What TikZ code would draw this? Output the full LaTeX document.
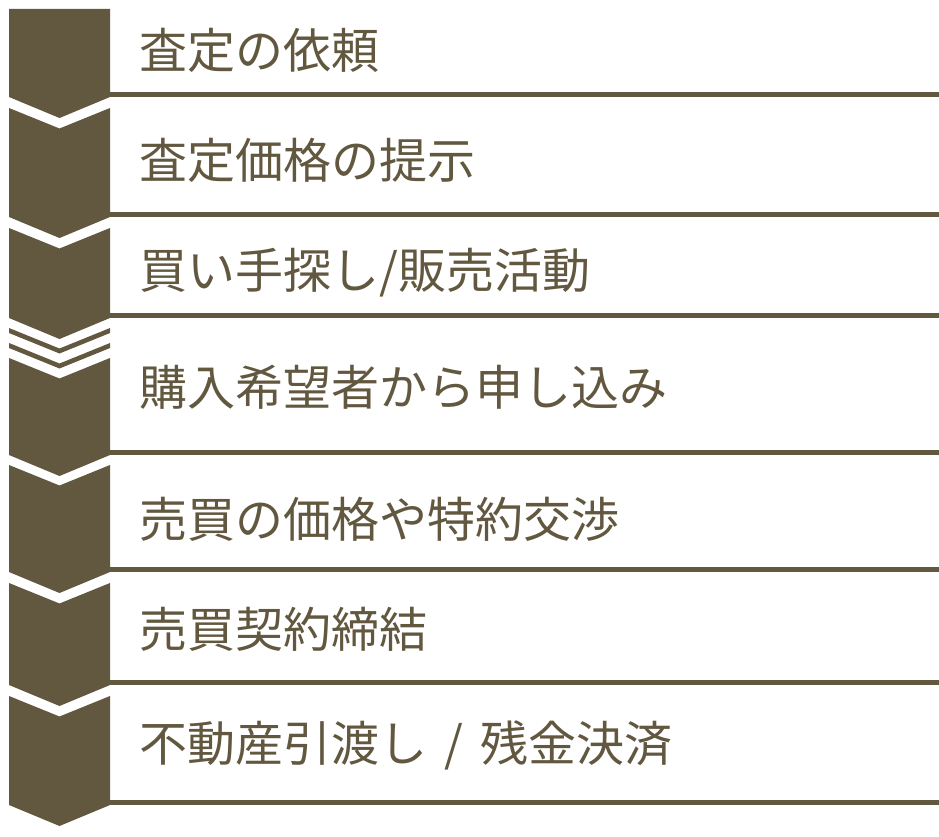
\documentclass[tikz,border=0pt]{standalone}
\usepackage{fontspec}
\newfontfamily\cjk{Noto Sans CJK JP}
\definecolor{olive}{HTML}{62573F}
\begin{document}
\begin{tikzpicture}[x=1pt,y=-1pt,
  stepbox/.style={fill=olive,draw=none},
  rule/.style={fill=olive,draw=none},
  label/.style={anchor=west,inner sep=0pt,text=olive,font=\cjk\fontsize{48}{48}\selectfont,text height=0.88em,text depth=0.12em}]
\useasboundingbox (0,0) rectangle (939,837);
% first box (flat top)
\fill[stepbox] (9,9) -- (110,9) -- (110,97) -- (59.5,118) -- (9,97) -- cycle;
% boxes with notched top: top side y, bottom side y
\foreach \t/\b in {108/217, 228/318, 358/455, 465/572, 583/685, 696/805}{
  \fill[stepbox] (9,\t) -- (59.5,\t+20.5) -- (110,\t) -- (110,\b) -- (59.5,\b+21) -- (9,\b) -- cycle;
}
% thin chevron stripes between box 3 and 4
\foreach \t in {328,343}{
  \fill[stepbox] (9,\t) -- (59.5,\t+20.5) -- (110,\t) -- (110,\t+5) -- (59.5,\t+25.5) -- (9,\t+5) -- cycle;
}
% horizontal rules
\foreach \y in {92,212,313,450,567,680,800}{
  \fill[rule] (110,\y) rectangle (939,\y+5);
}
\node[label] (s1) at (139,65) {査定の依頼};
\node[label] (s2) at (139,175) {査定価格の提示};
\node[label] (s3) at (139,285) {買い手探し/販売活動};
\node[label] (s4) at (139,402) {購入希望者から申し込み};
\node[label] (s5) at (139,534) {売買の価格や特約交渉};
\node[label] (s6) at (139,644) {売買契約締結};
\node[label] (s7) at (139,758) {不動産引渡し\hspace{17pt}/\hspace{17pt}残金決済};
\end{tikzpicture}
\end{document}
